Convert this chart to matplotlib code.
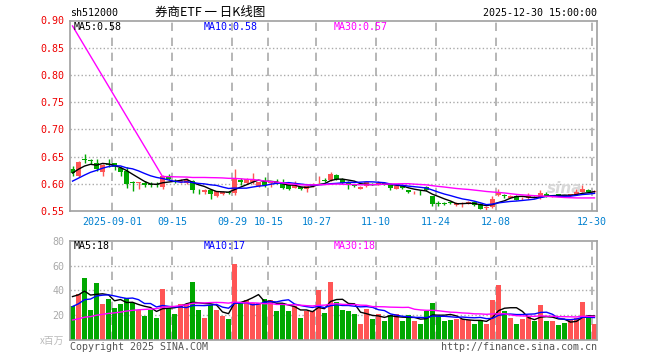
import matplotlib
matplotlib.use('Agg')
import matplotlib.pyplot as plt
import pandas as pd

# daily K data, 2025-08-21 .. 2025-12-30
opens = [0.628, 0.615, 0.646, 0.643, 0.638, 0.622, 0.637, 0.638, 0.629, 0.623,
         0.602, 0.601, 0.602, 0.599, 0.600, 0.594, 0.615, 0.606, 0.603, 0.602,
         0.605, 0.587, 0.585, 0.588, 0.577, 0.582, 0.584, 0.583, 0.607, 0.602,
         0.604, 0.596, 0.603, 0.601, 0.603, 0.601, 0.598, 0.593, 0.594, 0.590,
         0.596, 0.608, 0.607, 0.607, 0.616, 0.609, 0.601, 0.597, 0.591, 0.596,
         0.600, 0.599, 0.602, 0.597, 0.591, 0.596, 0.588, 0.584, 0.585, 0.594,
         0.577, 0.564, 0.564, 0.566, 0.561, 0.562, 0.564, 0.566, 0.562, 0.555,
         0.558, 0.579, 0.579, 0.574, 0.577, 0.573, 0.573, 0.575, 0.573, 0.581,
         0.578, 0.580, 0.579, 0.578, 0.581, 0.585, 0.589, 0.584]
highs = [0.632, 0.642, 0.655, 0.646, 0.646, 0.636, 0.646, 0.639, 0.631, 0.630,
         0.605, 0.604, 0.606, 0.603, 0.603, 0.616, 0.618, 0.609, 0.608, 0.610,
         0.607, 0.590, 0.590, 0.590, 0.587, 0.586, 0.587, 0.627, 0.611, 0.611,
         0.619, 0.604, 0.612, 0.606, 0.609, 0.609, 0.599, 0.605, 0.595, 0.596,
         0.601, 0.614, 0.610, 0.621, 0.618, 0.610, 0.605, 0.600, 0.596, 0.604,
         0.602, 0.606, 0.604, 0.598, 0.597, 0.597, 0.589, 0.587, 0.589, 0.596,
         0.578, 0.568, 0.567, 0.569, 0.566, 0.566, 0.568, 0.568, 0.564, 0.559,
         0.577, 0.591, 0.581, 0.579, 0.580, 0.576, 0.583, 0.577, 0.589, 0.584,
         0.580, 0.581, 0.580, 0.582, 0.590, 0.597, 0.590, 0.588]
lows = [0.614, 0.613, 0.638, 0.636, 0.623, 0.614, 0.630, 0.625, 0.614, 0.592,
        0.586, 0.591, 0.595, 0.595, 0.594, 0.591, 0.607, 0.602, 0.601, 0.600,
        0.583, 0.582, 0.581, 0.572, 0.576, 0.580, 0.581, 0.580, 0.597, 0.600,
        0.599, 0.594, 0.595, 0.594, 0.600, 0.590, 0.589, 0.592, 0.588, 0.584,
        0.595, 0.602, 0.603, 0.606, 0.607, 0.600, 0.590, 0.594, 0.590, 0.595,
        0.597, 0.598, 0.597, 0.588, 0.590, 0.590, 0.583, 0.582, 0.580, 0.586,
        0.559, 0.560, 0.561, 0.562, 0.560, 0.558, 0.562, 0.560, 0.553, 0.552,
        0.556, 0.577, 0.574, 0.573, 0.570, 0.571, 0.572, 0.573, 0.572, 0.576,
        0.576, 0.577, 0.576, 0.577, 0.580, 0.584, 0.584, 0.583]
closes = [0.619, 0.640, 0.644, 0.641, 0.627, 0.635, 0.635, 0.630, 0.622, 0.600,
          0.601, 0.602, 0.597, 0.598, 0.597, 0.615, 0.609, 0.604, 0.606, 0.607,
          0.588, 0.586, 0.588, 0.581, 0.586, 0.585, 0.583, 0.611, 0.604, 0.608,
          0.608, 0.603, 0.598, 0.606, 0.602, 0.592, 0.590, 0.598, 0.590, 0.596,
          0.600, 0.609, 0.606, 0.618, 0.609, 0.601, 0.600, 0.596, 0.595, 0.603,
          0.598, 0.602, 0.598, 0.593, 0.596, 0.592, 0.584, 0.585, 0.584, 0.589,
          0.562, 0.563, 0.563, 0.565, 0.564, 0.563, 0.566, 0.561, 0.554, 0.556,
          0.572, 0.585, 0.577, 0.578, 0.571, 0.574, 0.577, 0.574, 0.583, 0.578,
          0.579, 0.579, 0.577, 0.581, 0.585, 0.590, 0.585, 0.587]
# volume, x 百万
volumes = [27, 37, 50, 24, 46, 29, 33, 26, 29, 34, 30, 24, 19, 24, 18, 41, 26, 21, 29, 29,
           47, 24, 18, 28, 24, 19, 17, 61, 30, 32, 30, 30, 33, 32, 23, 30, 23, 27, 18, 23,
           23, 40, 22, 47, 31, 24, 23, 21, 13, 25, 17, 21, 15, 20, 21, 15, 20, 15, 13, 23,
           30, 19, 15, 16, 17, 17, 16, 13, 16, 13, 32, 44, 23, 18, 13, 17, 19, 15, 28, 15,
           15, 12, 14, 16, 18, 31, 19, 13]
# days before the window, only used to seed the moving averages
pre_close = [0.585, 0.588, 0.590, 0.592, 0.595, 0.605, 0.615, 0.625, 0.635]
pre_vol = [9, 11, 10, 12, 8, 10, 13, 11, 9, 12, 10, 11, 14, 9, 10, 12, 11, 10, 9, 13,
           15, 17, 19, 21, 23, 30, 35, 40, 43]
ma30_start = 0.89   # first MA30 point as drawn on the page

tick_idx = [7, 17, 27, 33, 41, 51, 61, 71, 87]
tick_labels = ['2025-09-01', '09-15', '09-29', '10-15', '10-27', '11-10', '11-24', '12-08', '12-30']
price_ticks = [0.55, 0.60, 0.65, 0.70, 0.75, 0.80, 0.85, 0.90]
vol_ticks = [20, 40, 60, 80]

RED = '#ff5555'
GREEN = '#00a800'
MONO = 'DejaVu Sans Mono'
FS = 7.2
W, H = 660, 360

n = len(closes)
x = list(range(n))
cols = [RED if c >= o else GREEN for o, c in zip(opens, closes)]

cs = pd.Series(pre_close + closes)
ma5 = cs.rolling(5, min_periods=1).mean().values[len(pre_close):]
ma10 = cs.rolling(10, min_periods=1).mean().values[len(pre_close):]
ma30 = cs.rolling(30, min_periods=1).mean().values[len(pre_close):]
vs = pd.Series(pre_vol + volumes)
vma5 = vs.rolling(5, min_periods=1).mean().values[len(pre_vol):]
vma10 = vs.rolling(10, min_periods=1).mean().values[len(pre_vol):]
vma30 = vs.rolling(30, min_periods=1).mean().values[len(pre_vol):]

fig = plt.figure(figsize=(6.6, 3.6), dpi=100)
ax = fig.add_axes([70 / W, 1 - 211 / H, 527 / W, 190.5 / H])
axv = fig.add_axes([70 / W, 1 - 340 / H, 527 / W, 99.3 / H])

for a in (ax, axv):
    a.set_xlim(-0.42, 87.42)
    for s in a.spines.values():
        s.set_color('#a0a0a0')
        s.set_linewidth(1.2)
    a.tick_params(length=0, pad=4)
    for t in tick_idx:
        a.axvline(t - 0.37, color='#aaaaaa', lw=1.2, ls=(0, (5, 4)), zorder=0)

# candles
bodies = [max(abs(c - o), 0.0015) for o, c in zip(opens, closes)]
bottoms = [min(o, c) for o, c in zip(opens, closes)]
ax.vlines(x, lows, highs, colors=cols, lw=1, zorder=2)
ax.bar(x, bodies, bottom=bottoms, width=0.8, color=cols, lw=0, zorder=2)
ax.plot(x, ma5, color='black', lw=1, zorder=3)
ax.plot(x, ma10, color='#0000ff', lw=1, zorder=3)
ax.plot([0] + x[15:], [ma30_start] + list(ma30[15:]), color='#ff00ff', lw=1, zorder=3)

ax.set_ylim(0.55, 0.90)
ax.set_yticks(price_ticks)
ax.set_yticklabels(['%.2f' % p for p in price_ticks], color='#ee0000', family=MONO, fontsize=FS)
for p in price_ticks[1:-1]:
    ax.axhline(p, color='#aaaaaa', lw=1, ls=':', zorder=0)
ax.set_xticks([t - 0.37 for t in tick_idx])
ax.set_xticklabels(tick_labels, color='#0080d0', family=MONO, fontsize=FS)
ax.text(0.972, 0.08, 'sina', transform=ax.transAxes, ha='right', va='bottom',
        fontsize=11, style='italic', weight='bold', color='#d8d8d8', zorder=1)

# volume
axv.bar(x, volumes, width=0.8, color=cols, lw=0, zorder=2)
axv.plot(x, vma5, color='black', lw=1, zorder=3)
axv.plot(x, vma10, color='#0000ff', lw=1, zorder=3)
axv.plot(x, vma30, color='#ff00ff', lw=1, zorder=3)
axv.set_ylim(0, 80)
axv.set_yticks(vol_ticks)
axv.set_yticklabels([str(v) for v in vol_ticks], color='#aaaaaa', family=MONO, fontsize=FS)
for v in vol_ticks[:-1]:
    axv.axhline(v, color='#aaaaaa', lw=1, ls=':', zorder=0)
axv.set_xticks([])

def ftext(px, py, s, **kw):
    kw.setdefault('family', MONO)
    kw.setdefault('fontsize', FS)
    kw.setdefault('va', 'center')
    fig.text(px / W, 1 - py / H, s, **kw)

ftext(70, 13, 'sh512000')
ftext(210, 12.5, '券商ETF 一 日K线图', ha='center', family=['Noto Sans CJK SC', 'DejaVu Sans'], fontsize=9)
ftext(597, 13, '2025-12-30 15:00:00', ha='right')
ftext(74, 26.5, 'MA5:0.58', color='black')
ftext(204, 26.5, 'MA10:0.58', color='#0000ff')
ftext(334, 26.5, 'MA30:0.57', color='#ff00ff')
ftext(74, 246, 'MA5:18', color='black')
ftext(204, 246, 'MA10:17', color='#0000ff')
ftext(334, 246, 'MA30:18', color='#ff00ff')
ftext(64, 340.5, 'x百万', ha='right', color='#bbbbbb', family=['Noto Sans CJK SC', 'DejaVu Sans'], fontsize=7)
ftext(70, 347, 'Copyright 2025 SINA.COM', color='#555555')
ftext(597, 347, 'http://finance.sina.com.cn', ha='right', color='#555555')

fig.savefig('out.png', dpi=100)
